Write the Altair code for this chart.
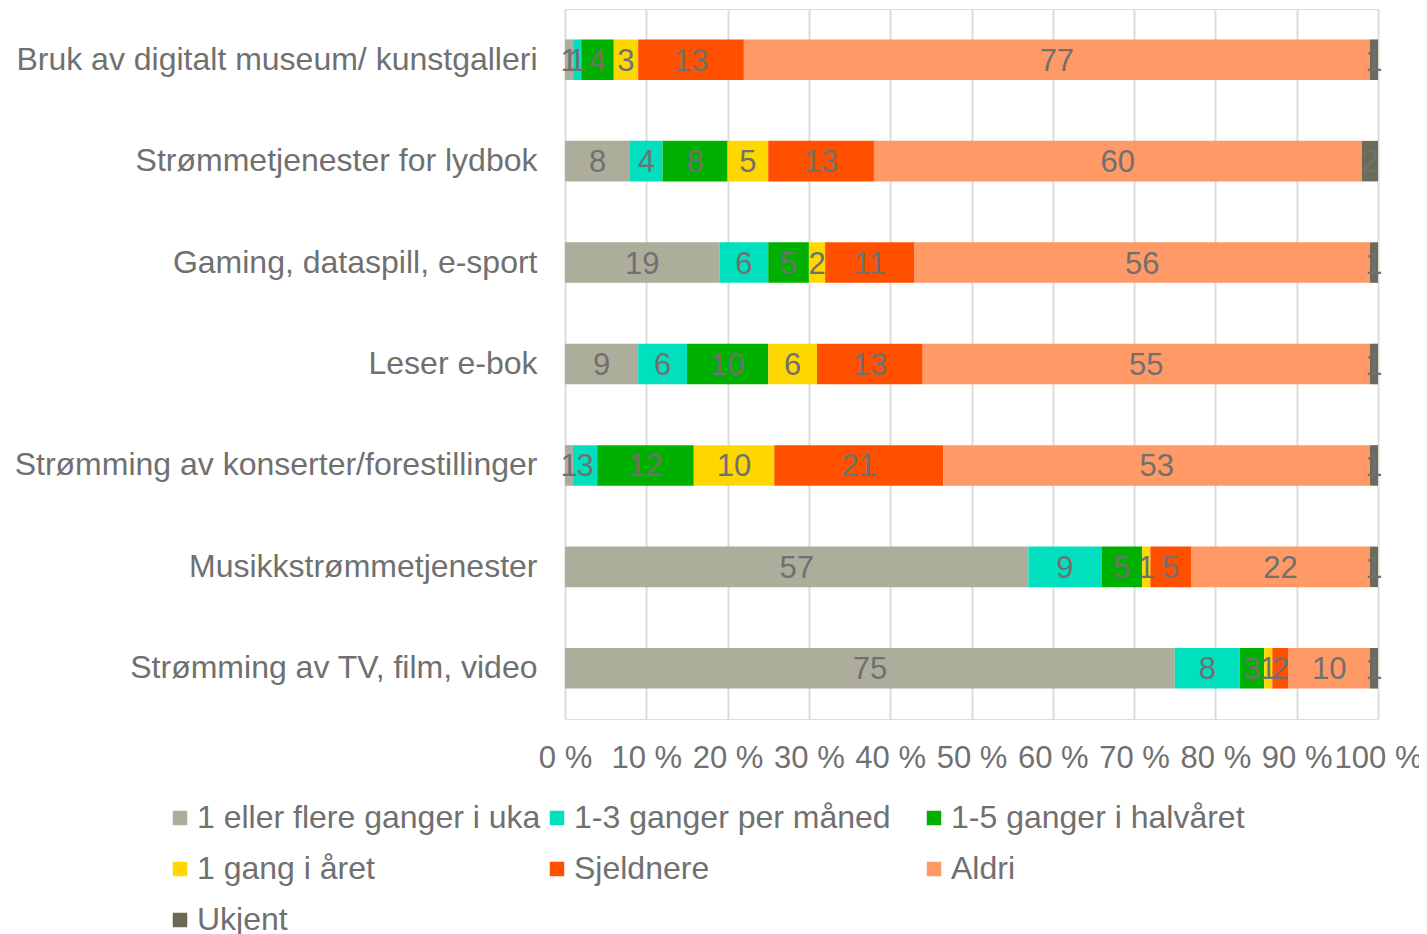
import altair as alt
import pandas as pd

categories = [
    "Bruk av digitalt museum/ kunstgalleri",
    "Strømmetjenester for lydbok",
    "Gaming, dataspill, e-sport",
    "Leser e-bok",
    "Strømming av konserter/forestillinger",
    "Musikkstrømmetjenester",
    "Strømming av TV, film, video",
]

series = [
    "1 eller flere ganger i uka",
    "1-3 ganger per måned",
    "1-5 ganger i halvåret",
    "1 gang i året",
    "Sjeldnere",
    "Aldri",
    "Ukjent",
]

colors = ["#ADAD9C", "#00E0BE", "#00B000", "#FFD700", "#FF5000", "#FF9966", "#6B6B58"]

# values per series, in category order
weekly = [1, 8, 19, 9, 1, 57, 75]
monthly = [1, 4, 6, 6, 3, 9, 8]
halfyear = [4, 8, 5, 10, 12, 5, 3]
yearly = [3, 5, 2, 6, 10, 1, 1]
rarer = [13, 13, 11, 13, 21, 5, 2]
never = [77, 60, 56, 55, 53, 22, 10]
unknown = [1, 2, 1, 1, 1, 1, 1]

series_values = [weekly, monthly, halfyear, yearly, rarer, never, unknown]

rows = []
for si, (s, vals) in enumerate(zip(series, series_values)):
    for ci, (c, v) in enumerate(zip(categories, vals)):
        rows.append({"cat": c, "series": s, "order": si, "value": v})
df = pd.DataFrame(rows)

FONT = "Liberation Sans"
TXT = "#707070"

base = alt.Chart(df).transform_stack(
    stack="value",
    groupby=["cat"],
    sort=[alt.SortField("order", order="ascending")],
    as_=["x0", "x1"],
    offset="normalize",
).transform_calculate(mid="(datum.x0 + datum.x1) / 2")

y_enc = alt.Y(
    "cat:N",
    sort=categories,
    title=None,
    scale=alt.Scale(paddingInner=0.6, paddingOuter=0.3),
    axis=alt.Axis(
        domain=False,
        ticks=False,
        labelPadding=28,
        labelFontSize=32,
        labelFont=FONT,
        labelColor=TXT,
        labelLimit=700,
        grid=False,
    ),
)

bars = base.mark_bar().encode(
    x=alt.X(
        "x0:Q",
        title=None,
        scale=alt.Scale(domain=[0, 1], nice=False),
        axis=alt.Axis(
            values=[i / 10 for i in range(11)],
            labelExpr="round(datum.value * 100) + ' %'",
            domain=False,
            ticks=False,
            grid=True,
            gridColor="#DCDCDC",
            gridWidth=2,
            labelPadding=24,
            labelFontSize=31,
            labelFont=FONT,
            labelColor=TXT,
            labelOverlap=False,
            labelBound=False,
            labelFlush=False,
        ),
    ),
    x2="x1:Q",
    y=y_enc,
    color=alt.Color(
        "series:N",
        sort=series,
        scale=alt.Scale(domain=series, range=colors),
        legend=alt.Legend(
            title=None,
            orient="none",
            legendX=-401,
            legendY=793,
            columns=3,
            direction="horizontal",
            gridAlign="all",
            columnPadding=-6,
            rowPadding=19,
            symbolType="square",
            symbolSize=210,
            symbolStrokeWidth=0,
            symbolOpacity=1,
            labelFontSize=32,
            labelFont=FONT,
            labelColor=TXT,
            labelLimit=600,
            labelOffset=1,
            padding=0,
        ),
    ),
    order=alt.Order("order:Q"),
)

labels = base.mark_text(
    fontSize=31, font=FONT, color=TXT, align="center", baseline="middle", dy=2
).encode(
    x=alt.X("mid:Q"),
    y=alt.Y("cat:N", sort=categories),
    text=alt.Text("value:Q", format=".0f"),
)

chart = (
    alt.layer(bars, labels)
    .properties(
        width=813,
        height=710,
        autosize=alt.AutoSizeParams(type="none"),
        padding={"left": 557, "top": 1, "right": 41, "bottom": 225},
    )
    .configure_view(stroke=None)
    .configure(background="white")
)

chart.save("out.html", embed_options={"renderer": "svg", "actions": False})
